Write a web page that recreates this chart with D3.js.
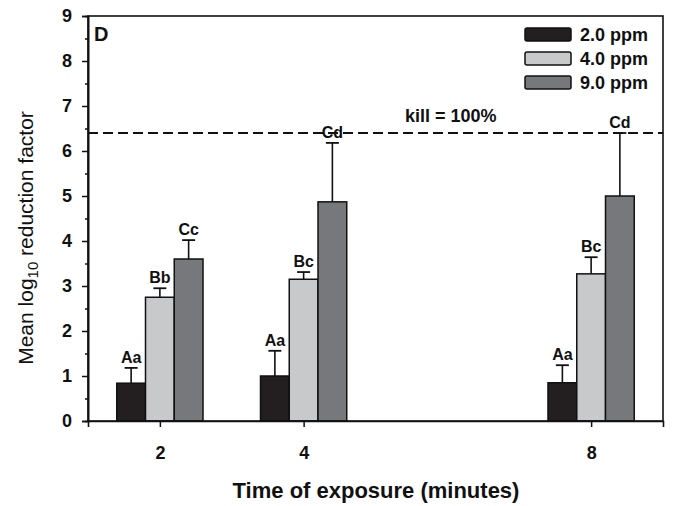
<!DOCTYPE html>
<html><head><meta charset="utf-8">
<script src="https://cdn.jsdelivr.net/npm/d3@7"></script>
<style>
html,body{margin:0;padding:0;background:#fff;}
svg{display:block;font-family:"Liberation Sans",Arial,sans-serif;}
</style></head>
<body>
<svg id="chart" width="673" height="506"></svg>
<script>
// ---- data ----
const times = [2, 4, 8];
const seriesNames = ["2.0 ppm", "4.0 ppm", "9.0 ppm"];
const means2 = [0.84, 1.00, 0.85];
const means4 = [2.75, 3.15, 3.27];
const means9 = [3.60, 4.87, 5.00];
const err2 = [0.34, 0.56, 0.39];
const err4 = [0.20, 0.16, 0.37];
const err9 = [0.42, 1.31, 1.40];
const letters2 = ["Aa", "Aa", "Aa"];
const letters4 = ["Bb", "Bc", "Bc"];
const letters9 = ["Cc", "Cd", "Cd"];
const yTicks = [0,1,2,3,4,5,6,7,8,9];
const yMinorTicks = [0.5,1.5,2.5,3.5,4.5,5.5,6.5,7.5,8.5];
const killLevel = 6.4;
const killLabel = "kill = 100%";
const panelLabel = "D";

const colors = ["#231f20", "#c8c9cb", "#77787b"];
const offsets = [-0.4, 0, 0.4];
const barW = 0.4;

const series = [
  {name: seriesNames[0], means: means2, err: err2, letters: letters2, color: colors[0], off: offsets[0]},
  {name: seriesNames[1], means: means4, err: err4, letters: letters4, color: colors[1], off: offsets[1]},
  {name: seriesNames[2], means: means9, err: err9, letters: letters9, color: colors[2], off: offsets[2]}
];

const svg = d3.select("#chart");
const L = 88, R = 663, T = 16, B = 421;
const x = d3.scaleLinear().domain([1, 9]).range([L, R]);
const y = d3.scaleLinear().domain([0, 9]).range([B, T]);

// kill line
svg.append("line")
  .attr("x1", L).attr("x2", R)
  .attr("y1", y(killLevel)).attr("y2", y(killLevel))
  .attr("stroke", "#111").attr("stroke-width", 2)
  .attr("stroke-dasharray", "10,5");

// bars
series.forEach(s => {
  const g = svg.append("g");
  times.forEach((t, i) => {
    const cx = t + s.off;
    const x0 = x(cx - barW / 2), x1 = x(cx + barW / 2);
    // error bar
    const xc = x(cx);
    const yTop = y(s.means[i] + s.err[i]);
    g.append("line").attr("x1", xc).attr("x2", xc)
      .attr("y1", y(s.means[i])).attr("y2", yTop)
      .attr("stroke", "#111").attr("stroke-width", 1.6);
    g.append("line").attr("x1", xc - 6.5).attr("x2", xc + 6.5)
      .attr("y1", yTop).attr("y2", yTop)
      .attr("stroke", "#111").attr("stroke-width", 1.8);
    g.append("rect")
      .attr("x", x0).attr("y", y(s.means[i]))
      .attr("width", x1 - x0).attr("height", y(0) - y(s.means[i]))
      .attr("fill", s.color).attr("stroke", "#111").attr("stroke-width", 1.5);
    g.append("text")
      .attr("x", xc).attr("y", yTop - 5)
      .attr("text-anchor", "middle")
      .attr("font-size", 16).attr("font-weight", "bold").attr("fill", "#111")
      .text(s.letters[i]);
  });
});

// frame
svg.append("rect").attr("x", L).attr("y", T).attr("width", R - L).attr("height", B - T)
  .attr("fill", "none").attr("stroke", "#111").attr("stroke-width", 1.6);

// y axis
const yMinor = svg.append("g").attr("transform", `translate(${L},0)`)
  .call(d3.axisLeft(y).tickValues(yMinorTicks).tickSize(3).tickFormat(""));
const yMajor = svg.append("g").attr("transform", `translate(${L},0)`)
  .call(d3.axisLeft(y).tickValues(yTicks).tickSize(6).tickPadding(10).tickFormat(d3.format("d")));
[yMinor, yMajor].forEach(a => {
  a.select(".domain").attr("stroke", "#111").attr("stroke-width", 1.6);
  a.selectAll(".tick line").attr("stroke", "#111").attr("stroke-width", 1.5);
});
yMajor.selectAll(".tick text")
  .attr("font-size", 18).attr("font-weight", "bold").attr("fill", "#111")
  .attr("font-family", "Liberation Sans, Arial, sans-serif");

// x axis
const xAxis = svg.append("g").attr("transform", `translate(0,${B})`)
  .call(d3.axisBottom(x).tickValues(times).tickSize(6).tickPadding(19).tickFormat(d3.format("d")));
xAxis.select(".domain").attr("stroke", "#111").attr("stroke-width", 1.6);
xAxis.selectAll(".tick line").attr("stroke", "#111").attr("stroke-width", 1.5);
xAxis.selectAll(".tick text")
  .attr("font-size", 18).attr("font-weight", "bold").attr("fill", "#111")
  .attr("font-family", "Liberation Sans, Arial, sans-serif");

// axis titles
svg.append("text")
  .attr("x", 376).attr("y", 498)
  .attr("text-anchor", "middle").attr("font-size", 22).attr("font-weight", "bold").attr("fill", "#111")
  .text("Time of exposure (minutes)");

const yt = svg.append("text")
  .attr("transform", "translate(33,238) rotate(-90)")
  .attr("text-anchor", "middle").attr("font-size", 21).attr("fill", "#111");
yt.append("tspan").text("Mean log");
yt.append("tspan").attr("font-size", 15).attr("dy", 5).text("10");
yt.append("tspan").attr("dy", -5).text(" reduction factor");

// panel label
svg.append("text").attr("x", 94).attr("y", 41)
  .attr("font-size", 20).attr("font-weight", "bold").attr("fill", "#111").text(panelLabel);

// kill label
svg.append("text").attr("x", 405).attr("y", 122)
  .attr("font-size", 18).attr("font-weight", "bold").attr("fill", "#111").text(killLabel);

// legend
const lg = svg.append("g");
series.forEach((s, i) => {
  lg.append("rect").attr("x", 525).attr("y", 28 + i * 24).attr("width", 46).attr("height", 13)
    .attr("rx", 2).attr("fill", s.color).attr("stroke", "#111").attr("stroke-width", 1.5);
  lg.append("text").attr("x", 580).attr("y", 41 + i * 24)
    .attr("font-size", 18).attr("font-weight", "bold").attr("fill", "#111").text(s.name);
});
</script>
</body></html>
